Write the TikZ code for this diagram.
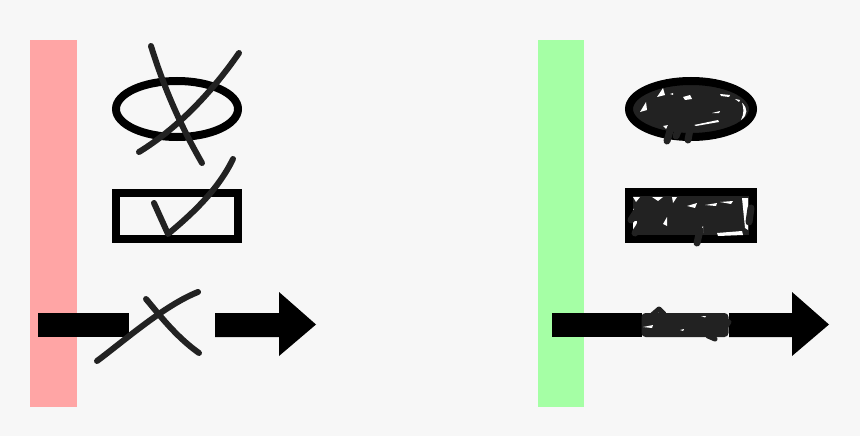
\documentclass[tikz,border=0pt]{standalone}
\usetikzlibrary{shapes.geometric}
\definecolor{bg}{HTML}{F7F7F7}
\definecolor{pinkbar}{HTML}{FFA5A5}
\definecolor{greenbar}{HTML}{A5FFA5}
\definecolor{pen}{HTML}{222222}
\begin{document}
\begin{tikzpicture}[x=1pt,y=-1pt,
  outl/.style={draw=black,line width=8pt,inner sep=0pt,outer sep=0pt},
  stroke/.style={draw=pen,line width=6pt,line cap=round,line join=round},
  scrib/.style={draw=pen,line width=7pt,line cap=round,line join=round},
  fleck/.style={fill=white,draw=none},
  barfill/.style={fill=black,draw=none}]
\fill[bg] (0,0) rectangle (860,436);
\useasboundingbox (0,0) rectangle (860,436);

% ---------- left panel ----------
\fill[pinkbar] (30,40) rectangle (77,407);
\node[ellipse,outl,minimum width=122pt,minimum height=56pt] (ell1) at (177,109) {};
\node[rectangle,outl,minimum width=122pt,minimum height=46pt] (rect1) at (177,216) {};
\coordinate (x1a) at (151,46);  \coordinate (x1b) at (202,163);
\coordinate (x2a) at (239,53);  \coordinate (x2b) at (139,152);
\draw[stroke] (x1a) .. controls (163,85) and (180,125) .. (x1b);
\draw[stroke] (x2a) .. controls (212,92) and (178,128) .. (x2b);
\coordinate (c1) at (154,203); \coordinate (c2) at (168,234); \coordinate (c3) at (233,159);
\draw[stroke] (c1) -- (c2) .. controls (192,214) and (218,190) .. (c3);
% arrow pieces
\fill[barfill] (38,313) rectangle (129,337);
\coordinate (a1tail) at (215,313);
\fill[barfill] (a1tail) -- (279,313) -- (279,292) -- (316,324.5) -- (279,356) -- (279,337) -- (215,337) -- cycle;
\coordinate (y1a) at (97,361); \coordinate (y1b) at (198,292);
\coordinate (y2a) at (146,299); \coordinate (y2b) at (199,353);
\draw[stroke] (y1a) .. controls (125,340) and (165,305) .. (y1b);
\draw[stroke] (y2a) .. controls (158,313) and (175,336) .. (y2b);

% ---------- right panel ----------
\fill[greenbar] (538,40) rectangle (584,407);
% scribbled ellipse
\node[ellipse,outl,fill=pen,minimum width=124pt,minimum height=56pt] (ell2) at (691,109) {};
\fill[fleck] (640,112) -- (646,102) -- (647,110) -- cycle;
\fill[fleck] (657,97) -- (663,88) -- (665,95) -- cycle;
\fill[fleck] (683,97) -- (690,95) -- (692,99) -- (685,100) -- cycle;
\fill[fleck] (670,94) -- (673,93) -- (673,95) -- cycle;
\fill[fleck] (720,94) -- (730,95) -- (729,97) -- (721,96) -- cycle;
\fill[fleck] (735,99) -- (740,100) -- (739,102) -- cycle;
\fill[fleck] (742,103) .. controls (748,108) and (748,115) .. (741,120) .. controls (744,114) and (744,108) .. (742,103) -- cycle;
\fill[fleck] (694,125) -- (718,120) -- (719,122) -- (696,126) -- cycle;
\fill[fleck] (712,113) -- (720,111) -- (719,113) -- cycle;
\fill[fleck] (663,126) -- (668,125) -- (666,129) -- cycle;
\draw[scrib] (667,141) -- (672,124);
\draw[scrib] (688,140) -- (691,124);
\draw[scrib] (676,136) -- (680,126);
% scribbled rectangle
\node[rectangle,outl,fill=pen,minimum width=124pt,minimum height=47pt] (rect2) at (691,215.5) {};
\fill[fleck] (633,197) -- (640,197) -- (636,202) -- cycle;
\fill[fleck] (652,197) -- (663,197) -- (658,201) -- cycle;
\fill[fleck] (672,197) -- (677,197) -- (673,203) -- cycle;
\fill[fleck] (687,206) -- (697,203) -- (695,208) -- cycle;
\fill[fleck] (705,205) -- (717,203) -- (716,206) -- cycle;
\fill[fleck] (720,202) -- (733,201) -- (731,204) -- cycle;
\fill[fleck] (742,198) -- (748,198) -- (748,230) -- (745,228) -- cycle;
\fill[fleck] (633,221) -- (637,221) -- (636,230) -- (633,230) -- cycle;
\fill[fleck] (633,209) -- (637,208) -- (634,214) -- cycle;
\fill[fleck] (717,233) -- (742,231) -- (743,235) -- (718,236) -- cycle;
\fill[fleck] (699,232) -- (703,226) -- (703,233) -- cycle;
\fill[fleck] (663,224) -- (667,217) -- (667,226) -- cycle;
\draw[scrib] (631,220) -- (640,206);
\draw[scrib] (635,233) -- (643,221);
\draw[scrib] (697,243) -- (700,230);
\draw[scrib] (749,222) -- (751,208);
% arrow with scribbled middle
\fill[barfill] (552,313) rectangle (642,337);
\coordinate (a2tail) at (729,313);
\fill[barfill] (a2tail) -- (792,313) -- (792,292) -- (829,324.5) -- (792,356) -- (792,337) -- (729,337) -- cycle;
\node[fill=pen,draw=none,minimum width=87pt,minimum height=24pt,inner sep=0pt,rounded corners=4pt] (scr3) at (685,325) {};
\draw[scrib,line width=5pt] (652,315) -- (659,309) -- (664,314);
\draw[scrib,line width=5pt] (708,336) -- (715,339);
\draw[scrib,line width=5pt] (720,318) -- (729,322) -- (722,332);
\fill[fleck] (643,327) -- (653,325) -- (652,328) -- cycle;
\fill[fleck] (680,330) -- (684,329) -- (683,331) -- cycle;
\fill[fleck] (701,316) -- (706,316) -- (705,317.5) -- cycle;
\end{tikzpicture}
\end{document}
